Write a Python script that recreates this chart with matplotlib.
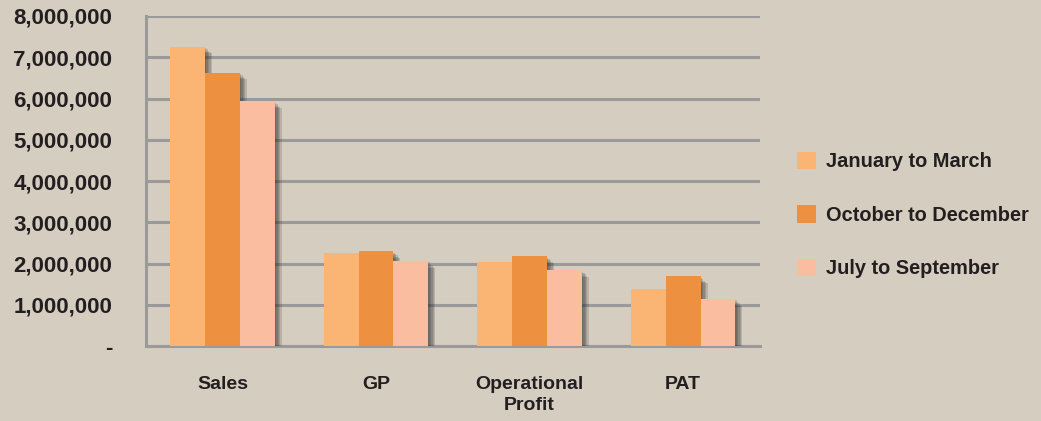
import matplotlib.pyplot as plt
import matplotlib.patheffects as pe
from matplotlib.patches import Patch
from matplotlib.ticker import FuncFormatter
import numpy as np

# Data
categories = ["Sales", "GP", "Operational\nProfit", "PAT"]
series = ["January to March", "October to December", "July to September"]
jan_mar = [7260000, 2250000, 2030000, 1380000]
oct_dec = [6630000, 2300000, 2180000, 1690000]
jul_sep = [5930000, 2060000, 1840000, 1140000]
colors = ["#FAB574", "#ED9140", "#FABDA0"]

bg = "#D6CDC1"
grid_col = "#9A9A9A"
txt = "#231F20"

plt.rcParams['font.family'] = ['Liberation Sans', 'DejaVu Sans']
plt.rcParams['font.weight'] = 'bold'

fig = plt.figure(figsize=(10.41, 4.21), dpi=100, facecolor=bg)
ax = fig.add_axes([0.140, 0.178, 0.590, 0.784], facecolor=bg)

x = np.arange(len(categories))
w = 0.227
# soft drop shadow built from a few stacked offsets
shadow = [pe.SimplePatchShadow(offset=(o, -o), shadow_rgbFace='#2a2a2a', alpha=0.17)
          for o in (1, 2, 3, 4, 5)] + [pe.Normal()]
for i, (vals, col) in enumerate(zip([jan_mar, oct_dec, jul_sep], colors)):
    bars = ax.bar(x + (i - 1) * w, vals, width=w, color=col, zorder=3)
    for b in bars:
        b.set_path_effects(shadow)

ax.set_xlim(-0.5, 3.5)
ax.set_ylim(0, 8000000)
ax.set_yticks(np.arange(0, 8000001, 1000000))
ax.yaxis.set_major_formatter(FuncFormatter(lambda v, p: "-" if v == 0 else f"{int(v):,}"))
ax.set_xticks(x)
ax.set_xticklabels(categories, fontsize=14, fontweight='bold', color=txt, linespacing=1.3)
ax.tick_params(axis='y', labelsize=16, colors=txt, length=0, pad=24)
ax.tick_params(axis='x', length=0, pad=21.5)
ax.grid(axis='y', color=grid_col, linewidth=2.2, zorder=0)
for s in ['top', 'right']:
    ax.spines[s].set_visible(False)
for s in ['left', 'bottom']:
    ax.spines[s].set_color(grid_col)
    ax.spines[s].set_linewidth(2.2)

handles = [Patch(facecolor=c, edgecolor='none') for c in colors]
leg = fig.legend(handles, series, loc='center left', bbox_to_anchor=(0.766, 0.489),
                 frameon=False, fontsize=14.4, handlelength=0.95, handleheight=0.95,
                 labelspacing=1.7, handletextpad=0.5, borderaxespad=0, borderpad=0)
for t in leg.get_texts():
    t.set_color(txt)
    t.set_fontweight('bold')

fig.savefig("out.png", dpi=100, facecolor=bg)
